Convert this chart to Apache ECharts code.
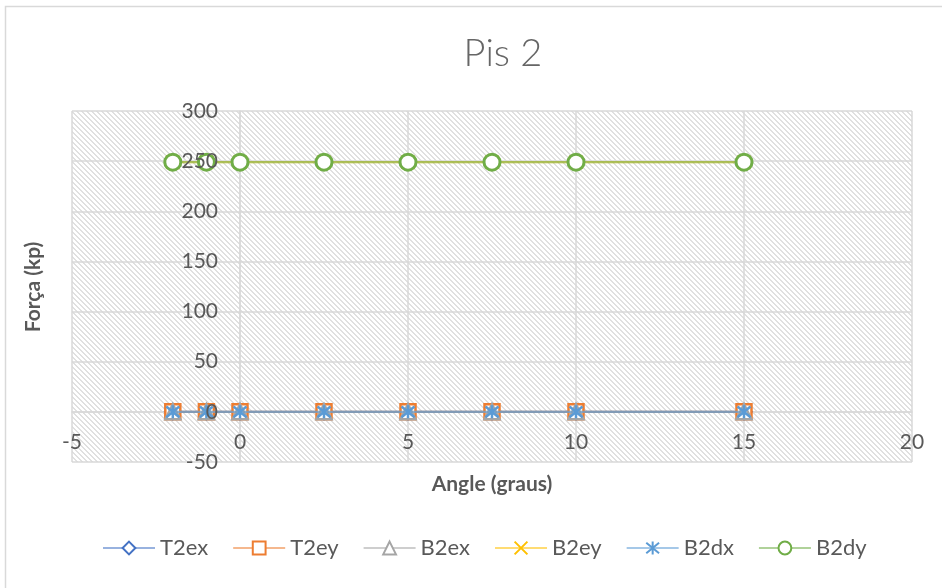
<!DOCTYPE html>
<html>
<head>
<meta charset="utf-8">
<script src="https://cdn.jsdelivr.net/npm/echarts@6/dist/echarts.min.js"></script>
<style>
  html, body { margin: 0; padding: 0; background: #fff; }
  #chart { width: 942px; height: 588px; }
</style>
</head>
<body>
<div id="chart"></div>
<script>
// Angle values (graus) shared by all series
const angles = [-2, -1, 0, 2.5, 5, 7.5, 10, 15];

// Force values (kp) per series
const t2ex = [0, 0, 0, 0, 0, 0, 0, 0];
const t2ey = [0, 0, 0, 0, 0, 0, 0, 0];
const b2ex = [0, 0, 0, 0, 0, 0, 0, 0];
const b2ey = [249, 249, 249, 249, 249, 249, 249, 249];
const b2dx = [0, 0, 0, 0, 0, 0, 0, 0];
const b2dy = [249, 249, 249, 249, 249, 249, 249, 249];

const seriesNames = ['T2ex', 'T2ey', 'B2ex', 'B2ey', 'B2dx', 'B2dy'];
const seriesValues = [t2ex, t2ey, b2ex, b2ey, b2dx, b2dy];

// Axis tick settings
const xTicks = { min: -5, max: 20, step: 5 };
const yTicks = { min: -50, max: 300, step: 50 };

const FONT = 'Lato, "Open Sans", sans-serif';
const TEXT = '#595959';
const GRID = '#d9d9d9';

// Plot rectangle (margins inside the 942x588 canvas)
const W = 942, H = 588;
const gridBox = { left: 72, right: 30, top: 111, bottom: 126 };
const plotW = W - gridBox.left - gridBox.right;
const plotH = H - gridBox.top - gridBox.bottom;

// Axes cross at zero: shift each axis from the plot edge to the other axis's zero
const xAxisShift = -plotH * (0 - yTicks.min) / (yTicks.max - yTicks.min);
const yAxisShift = -plotW * (0 - xTicks.min) / (xTicks.max - xTicks.min);

// Downward-diagonal hatch tile for the plot background
function hatchTile() {
  const n = 5;
  const c = document.createElement('canvas');
  c.width = n; c.height = n;
  const ctx = c.getContext('2d');
  ctx.fillStyle = '#ffffff';
  ctx.fillRect(0, 0, n, n);
  ctx.fillStyle = '#e0e0e0';
  for (let y = 0; y < n; y++) {
    for (let x = 0; x < n; x++) {
      const d = ((x - y) % n + n) % n;
      if (d < 2) ctx.fillRect(x, y, 1, 1);
    }
  }
  return c;
}

const crossPath = 'path://M0,0L10,10M10,0L0,10';
const starPath = 'path://M0,0L10,10M10,0L0,10M5,-1L5,11';

const styles = [
  { color: '#4472C4', symbol: 'diamond', size: 15, fill: '#ffffff', bw: 2.5 },
  { color: '#ED7D31', symbol: 'rect', size: 15, fill: '#ffffff', bw: 2.5 },
  { color: '#A5A5A5', symbol: 'triangle', size: 15, fill: '#ffffff', bw: 2.5 },
  { color: '#FFC000', symbol: crossPath, size: 13, fill: '#FFC000', bw: 2.5 },
  { color: '#5B9BD5', symbol: starPath, size: 13, fill: '#5B9BD5', bw: 2.5 },
  { color: '#70AD47', symbol: 'circle', size: 16, fill: '#ffffff', bw: 3 }
];

const series = seriesNames.map((name, i) => {
  const s = styles[i];
  return {
    name: name,
    type: 'line',
    xAxisIndex: 0,
    yAxisIndex: 0,
    data: angles.map((a, k) => [a, seriesValues[i][k]]),
    symbol: s.symbol,
    symbolSize: s.size,
    showAllSymbol: true,
    lineStyle: { color: s.color, width: 2.25, opacity: 0.55 },
    itemStyle: { color: s.fill, borderColor: s.color, borderWidth: s.bw },
    emphasis: { disabled: true },
    z: 3 + i
  };
});

const yLabelStyle = { margin: 22, fontFamily: FONT, fontSize: 21, color: TEXT, showMinLabel: true, showMaxLabel: true };

const chart = echarts.init(document.getElementById('chart'), null, { renderer: 'canvas' });
chart.setOption({
  animation: false,
  backgroundColor: '#ffffff',
  grid: {
    left: gridBox.left, right: gridBox.right, top: gridBox.top, bottom: gridBox.bottom,
    show: true,
    borderWidth: 0,
    backgroundColor: { image: hatchTile(), repeat: 'repeat' }
  },
  xAxis: {
    type: 'value',
    min: xTicks.min, max: xTicks.max, interval: xTicks.step,
    offset: xAxisShift,
    axisLine: { show: true, onZero: false, lineStyle: { color: GRID, width: 1.5 } },
    axisTick: { show: false },
    axisLabel: { margin: 20, fontFamily: FONT, fontSize: 21, color: TEXT, showMinLabel: true, showMaxLabel: true },
    splitLine: { show: true, lineStyle: { color: GRID, width: 1.5 } }
  },
  yAxis: [
    {
      // gridlines and axis line, below the series
      type: 'value',
      position: 'left',
      min: yTicks.min, max: yTicks.max, interval: yTicks.step,
      offset: yAxisShift,
      axisLine: { show: true, onZero: false, lineStyle: { color: GRID, width: 1.5 } },
      axisTick: { show: false },
      axisLabel: { show: false },
      splitLine: { show: true, lineStyle: { color: GRID, width: 1.5 } }
    },
    {
      // tick labels, drawn above the markers
      type: 'value',
      position: 'left',
      min: yTicks.min, max: yTicks.max, interval: yTicks.step,
      offset: yAxisShift,
      z: 20,
      axisLine: { show: false, onZero: false },
      axisTick: { show: false },
      axisLabel: yLabelStyle,
      splitLine: { show: false }
    }
  ],
  legend: {
    data: seriesNames,
    bottom: 24,
    left: 97,
    itemWidth: 52,
    itemHeight: 16,
    itemGap: 24,
    textStyle: { fontFamily: FONT, fontSize: 22, color: TEXT }
  },
  graphic: [
    {
      type: 'rect',
      shape: { x: 5.5, y: 6.5, width: 1000, height: 1000 },
      style: { fill: 'none', stroke: GRID, lineWidth: 1.5 },
      silent: true,
      z: -1
    },
    {
      type: 'text',
      x: 503, y: 54,
      style: {
        text: 'Pis 2', fontFamily: FONT, fontSize: 38, fontWeight: 300,
        fill: '#666666', align: 'center', verticalAlign: 'middle'
      }
    },
    {
      type: 'text',
      x: 33, y: 287,
      rotation: Math.PI / 2,
      style: {
        text: 'Força (kp)', fontFamily: FONT, fontSize: 21, fontWeight: 'bold',
        fill: TEXT, align: 'center', verticalAlign: 'middle'
      }
    },
    {
      type: 'text',
      x: 492, y: 484,
      style: {
        text: 'Angle (graus)', fontFamily: FONT, fontSize: 21, fontWeight: 'bold',
        fill: TEXT, align: 'center', verticalAlign: 'middle'
      }
    }
  ],
  series: series
});
</script>
</body>
</html>
